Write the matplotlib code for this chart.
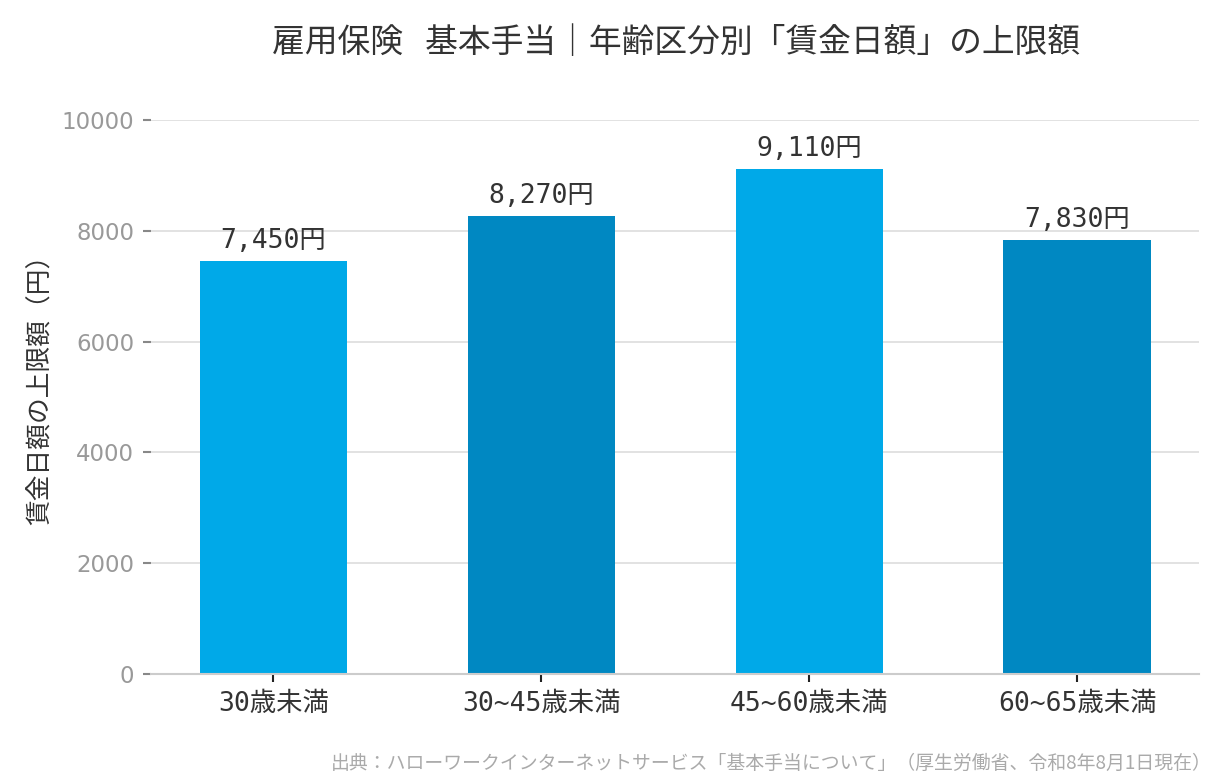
import matplotlib
matplotlib.use('Agg')
import matplotlib.pyplot as plt

# data
categories = ['30歳未満', '30~45歳未満', '45~60歳未満', '60~65歳未満']
values = [7450, 8270, 9110, 7830]
bar_colors = ['#00A9E8', '#0088C2', '#00A9E8', '#0088C2']
yticks = [0, 2000, 4000, 6000, 8000, 10000]

title = '雇用保険   基本手当｜年齢区分別「賃金日額」の上限額'
ylabel = '賃金日額の上限額（円）'
source = '出典：ハローワークインターネットサービス「基本手当について」（厚生労働省、令和8年8月1日現在）'

cjk = ['Noto Sans CJK JP', 'DejaVu Sans']
mono = ['DejaVu Sans Mono', 'Noto Sans CJK JP']

plt.rcParams['font.family'] = cjk

fig = plt.figure(figsize=(12.24, 7.82), dpi=100)
ax = fig.add_axes([151 / 1224, 1 - 674 / 782, 1048 / 1224, 554 / 782])

x = list(range(len(categories)))
bars = ax.bar(x, values, width=0.55, color=bar_colors, zorder=3)

for xi, v in zip(x, values):
    ax.annotate(f'{v:,}円', (xi, v), xytext=(0, 5), textcoords='offset points',
                ha='center', va='bottom', fontsize=19, color='#333333',
                family=mono)

ax.set_xlim(-0.457, 3.455)
ax.set_ylim(0, 10000)
ax.set_yticks(yticks)
ax.set_yticklabels([str(t) for t in yticks], family=['DejaVu Sans'],
                   fontsize=16.5, color='#999999')
ax.set_xticks(x)
ax.set_xticklabels(categories, family=mono, fontsize=19, color='#333333')

ax.tick_params(axis='y', length=6, width=1.5, color='#888888', pad=6)
ax.tick_params(axis='x', length=6, width=1.5, color='#222222', pad=6)

ax.grid(axis='y', color='#dddddd', linewidth=1.2, zorder=0)
ax.set_axisbelow(True)
for s in ['top', 'right', 'left']:
    ax.spines[s].set_visible(False)
ax.spines['bottom'].set_color('#cccccc')
ax.spines['bottom'].set_linewidth(1.5)
ax.spines['bottom'].set_zorder(4)

ax.set_ylabel(ylabel, fontsize=18.5, color='#333333')
ax.yaxis.set_label_coords(-0.093, 0.525)

fig.text(676 / 1224, 1 - 43 / 782, title, ha='center', va='center',
         fontsize=23.6, color='#333333')
fig.text(1212 / 1224, 1 - 763 / 782, source, ha='right', va='center',
         fontsize=13.6, color='#aaaaaa')

fig.savefig('out.png', dpi=100)
